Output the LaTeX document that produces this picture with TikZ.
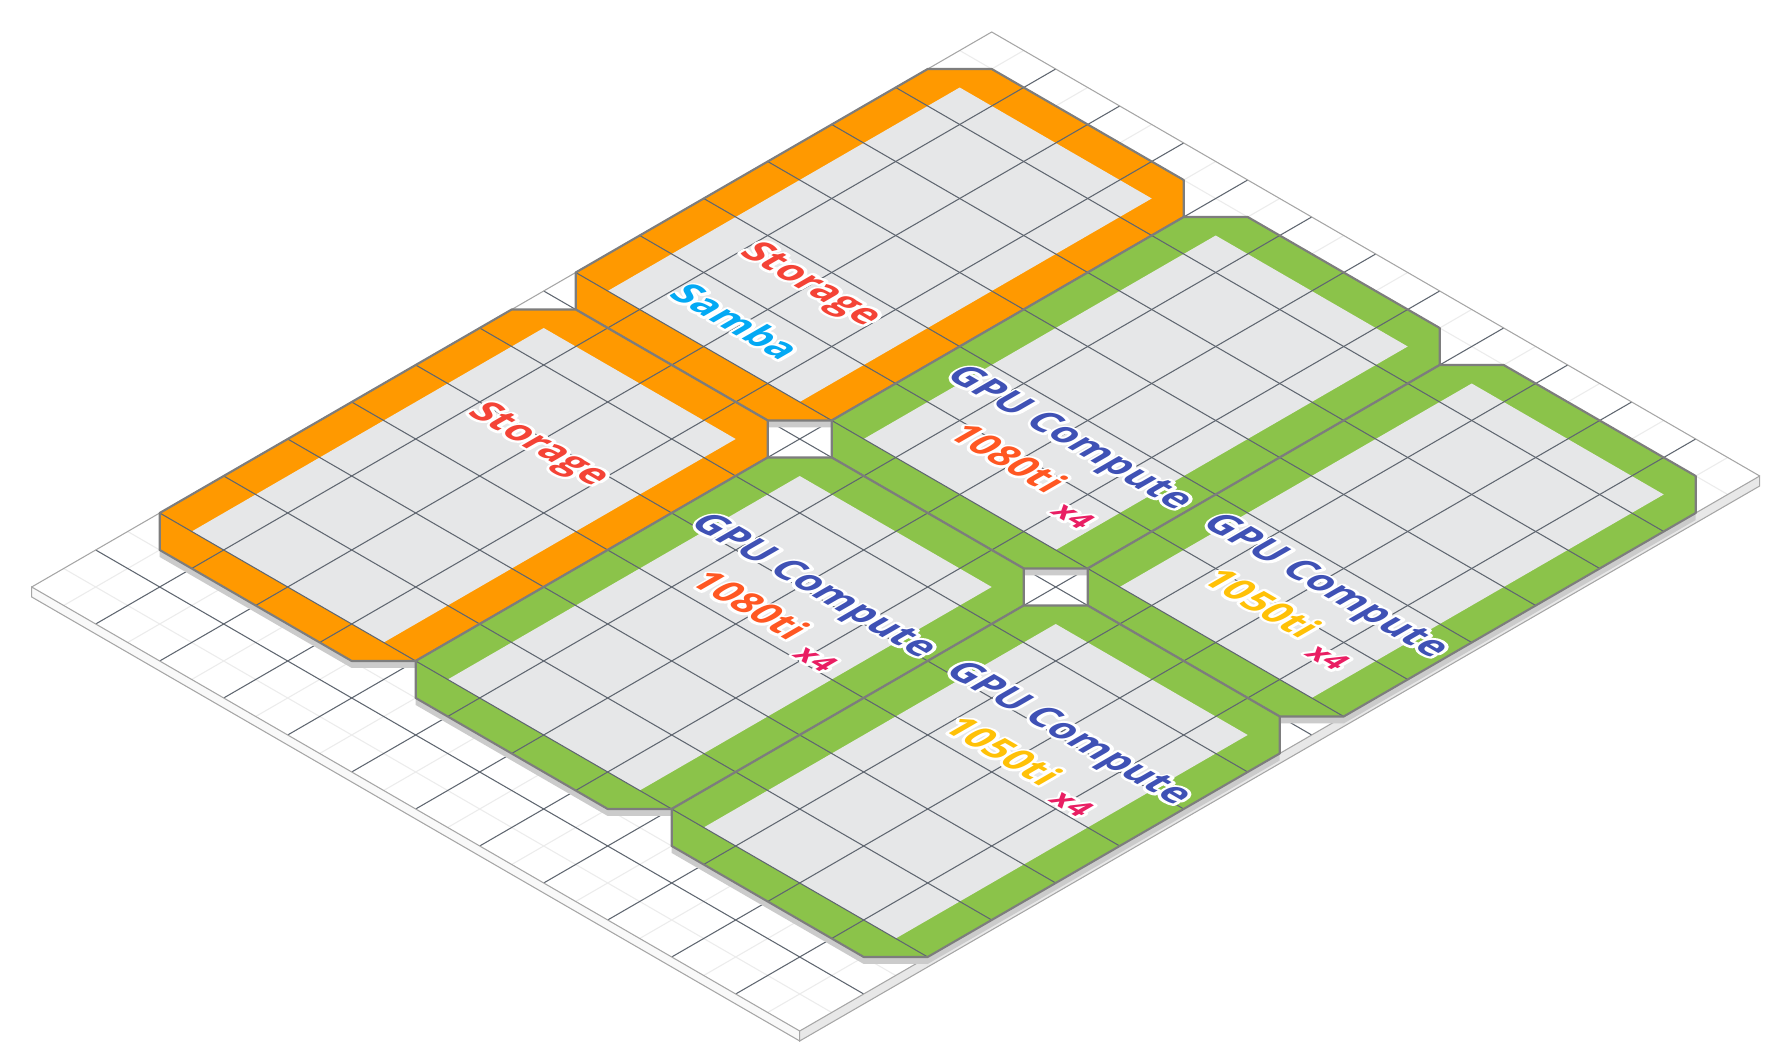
\documentclass[tikz,border=0pt]{standalone}
\usepackage{fontspec}
\setmainfont{Open Sans}

\definecolor{storageorange}{HTML}{FF9900}
\definecolor{computegreen}{HTML}{8BC34A}
\definecolor{floorgray}{HTML}{E6E7E8}
\definecolor{gridgray}{HTML}{5F6670}
\definecolor{edgegray}{HTML}{7D7D7D}
\definecolor{shadowgray}{HTML}{CBCBCB}
\definecolor{faintgray}{HTML}{ECECEC}
\definecolor{storagered}{HTML}{F44336}
\definecolor{sambablue}{HTML}{03A9F4}
\definecolor{gpublue}{HTML}{3F51B5}
\definecolor{gpuorange}{HTML}{FF5722}
\definecolor{gpuamber}{HTML}{FFC107}
\definecolor{countpink}{HTML}{E91E63}

% white outline behind a label
\newcommand{\halo}[1]{\makebox[0pt][l]{\color{white}\special{pdf:literal direct 1 Tr 1.7 w 1 j}#1\special{pdf:literal direct 0 Tr}}#1}

\tikzset{
  gridline/.style={gridgray, line width=0.3pt},
  faintline/.style={faintgray, line width=0.3pt},
  edgeline/.style={edgegray, line width=0.6pt, line join=round},
  plateedge/.style={gray!70, line width=0.3pt},
  isolabel/.style={inner sep=0pt, font=\fontsize{11}{13}\selectfont\bfseries,
    cm={0.866,-0.5,0.866,0.5,(0,0)}},
  countlabel/.style={isolabel, font=\fontsize{8.6}{10}\selectfont\bfseries, text=countpink}
}

% #1 a-start, #2 a-end, #3 b-start, #4 b-end, #5 colour
\newcommand{\areashadow}[4]{%
  \fill[shadowgray, yshift=-0.07cm] (#1,#3,1) -- (#2-0.5,#3,1) -- (#2,#3+0.5,1) -- (#2,#4,1)
    -- (#2,#4,0) -- (#1+0.5,#4,0) -- (#1,#4-0.5,0) -- (#1,#3,0) -- cycle;}
\newcommand{\areablock}[5]{%
  \fill[#5] (#1,#3,1) -- (#2-0.5,#3,1) -- (#2,#3+0.5,1) -- (#2,#4,1)
    -- (#2,#4,0) -- (#1+0.5,#4,0) -- (#1,#4-0.5,0) -- (#1,#3,0) -- cycle;
  \fill[floorgray] (#1,#3+0.5,1) -- (#2-0.5,#3+0.5,1) -- (#2-0.5,#4,1) -- (#1,#4,1) -- cycle;
  \begin{scope}
    \clip (#1,#3,1) -- (#2-0.5,#3,1) -- (#2,#3+0.5,1) -- (#2,#4,1)
      -- (#2,#4,0) -- (#1+0.5,#4,0) -- (#1,#4-0.5,0) -- (#1,#3,0) -- cycle;
    \foreach \ga in {#1,...,#2}
      \draw[gridline] (\ga,#3-1,1) -- (\ga,#4+1,1);
    \foreach \gb in {#3,...,#4}
      \draw[gridline] (#1-1,\gb,1) -- (#2+1,\gb,1);
  \end{scope}
  \draw[edgeline] (#1,#3,1) -- (#2-0.5,#3,1) -- (#2,#3+0.5,1) -- (#2,#4,1)
    -- (#2,#4,0) -- (#1+0.5,#4,0) -- (#1,#4-0.5,0) -- (#1,#3,0) -- cycle;}

\begin{document}
\begin{tikzpicture}[x={(0.64cm,0.37cm)}, y={(0.64cm,-0.37cm)}, z={(0cm,0.37cm)}]
\useasboundingbox (-0.317cm,-4.76cm) rectangle (17.603cm,5.87cm);

% base plate
\fill[white] (0,0,0) -- (15,0,0) -- (15,12,0) -- (0,12,0) -- cycle;
\foreach \pa in {0.5,...,14.5} \draw[faintline] (\pa,0,0) -- (\pa,12,0);
\foreach \pb in {0.5,...,11.5} \draw[faintline] (0,\pb,0) -- (15,\pb,0);
\foreach \pa in {1,...,14} \draw[gridline] (\pa,0,0) -- (\pa,12,0);
\foreach \pb in {1,...,11} \draw[gridline] (0,\pb,0) -- (15,\pb,0);
\filldraw[fill=gray!5, draw=gray!70, line width=0.3pt] (0,0,0) -- (0,12,0) -- (0,12,-0.27) -- (0,0,-0.27) -- cycle;
\filldraw[fill=gray!18, draw=gray!70, line width=0.3pt] (0,12,0) -- (15,12,0) -- (15,12,-0.27) -- (0,12,-0.27) -- cycle;
\draw[plateedge] (0,0,0) -- (15,0,0) -- (15,12,0);

\areashadow{8}{14}{0.5}{4}
\areashadow{1.5}{7.5}{0.5}{4}
\areashadow{8}{14}{4.5}{8}
\areashadow{1.5}{7.5}{4.5}{8}
\areashadow{8}{14}{8.5}{12}
\areashadow{1.5}{7.5}{8.5}{12}

\areablock{8}{14}{0.5}{4}{storageorange}
\areablock{1.5}{7.5}{0.5}{4}{storageorange}
\areablock{8}{14}{4.5}{8}{computegreen}
\areablock{1.5}{7.5}{4.5}{8}{computegreen}
\areablock{8}{14}{8.5}{12}{computegreen}
\areablock{1.5}{7.5}{8.5}{12}{computegreen}

% labels
\node[isolabel, text=storagered] (storagesamba) at (9.66,2.5,1) {\halo{Storage}};
\node[isolabel, text=sambablue] (samba) at (8.6,2.42,1) {\halo{Samba}};
\node[isolabel, text=storagered] (storageleft) at (5.37,2.54,1) {\halo{Storage}};

\node[isolabel, text=gpublue] (gpuback) at (9.6,6.6,1) {\halo{GPU Compute}};
\node[isolabel, text=gpuorange] (cardback) at (8.88,6.38,1) {\halo{1080ti}};
\node[countlabel] (countback) at (8.6,7.68,1) {\halo{x4}};

\node[isolabel, text=gpublue] (gpuleft) at (5.6,6.6,1) {\halo{GPU Compute}};
\node[isolabel, text=gpuorange] (cardleft) at (4.88,6.36,1) {\halo{1080ti}};
\node[countlabel] (countleft) at (4.66,7.6,1) {\halo{x4}};

\node[isolabel, text=gpublue] (gpuright) at (9.6,10.6,1) {\halo{GPU Compute}};
\node[isolabel, text=gpuamber] (cardright) at (8.9,10.33,1) {\halo{1050ti}};
\node[countlabel] (countright) at (8.68,11.58,1) {\halo{x4}};

\node[isolabel, text=gpublue] (gpufront) at (5.6,10.58,1) {\halo{GPU Compute}};
\node[isolabel, text=gpuamber] (cardfront) at (4.88,10.3,1) {\halo{1050ti}};
\node[countlabel] (countfront) at (4.7,11.56,1) {\halo{x4}};
\end{tikzpicture}
\end{document}
